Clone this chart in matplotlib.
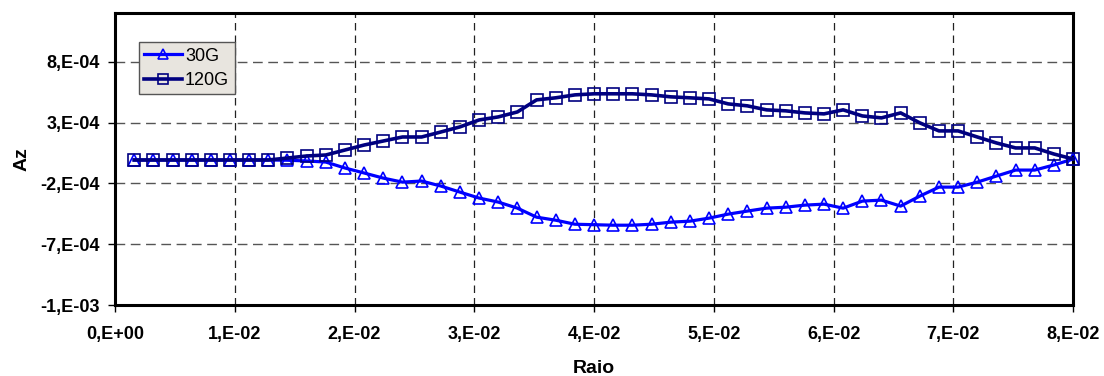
import numpy as np
from matplotlib import pyplot as plt
from matplotlib.ticker import FuncFormatter

plt.rcParams['font.family'] = ['Liberation Sans', 'DejaVu Sans']

# raio (m), 50 pontos
raio = [0.0016 * i for i in range(1, 51)]

az_30g = [-8e-6, -8e-6, -8e-6, -8e-6, -8e-6, -8e-6, -8e-6, -8e-6, -1.0e-5, -1.6e-5,
          -2.5e-5, -7.4e-5, -1.15e-4, -1.57e-4, -1.90e-4, -1.81e-4, -2.22e-4, -2.72e-4, -3.21e-4, -3.54e-4,
          -4.04e-4, -4.78e-4, -5.03e-4, -5.36e-4, -5.40e-4, -5.44e-4, -5.44e-4, -5.36e-4, -5.19e-4, -5.11e-4,
          -4.86e-4, -4.53e-4, -4.28e-4, -4.04e-4, -3.96e-4, -3.79e-4, -3.71e-4, -4.04e-4, -3.46e-4, -3.38e-4,
          -3.87e-4, -3.05e-4, -2.31e-4, -2.31e-4, -1.90e-4, -1.40e-4, -9.1e-5, -9.1e-5, -4.9e-5, 0.0]

az_120g = [-8e-6, -8e-6, -8e-6, -8e-6, -8e-6, -8e-6, -8e-6, -8e-6, 8e-6, 2.5e-5,
           3.3e-5, 7.4e-5, 1.15e-4, 1.48e-4, 1.81e-4, 1.81e-4, 2.22e-4, 2.64e-4, 3.21e-4, 3.46e-4,
           3.87e-4, 4.86e-4, 5.03e-4, 5.27e-4, 5.36e-4, 5.36e-4, 5.36e-4, 5.27e-4, 5.11e-4, 5.03e-4,
           4.94e-4, 4.53e-4, 4.37e-4, 4.04e-4, 3.96e-4, 3.79e-4, 3.71e-4, 4.04e-4, 3.54e-4, 3.38e-4,
           3.79e-4, 2.97e-4, 2.31e-4, 2.31e-4, 1.81e-4, 1.32e-4, 9.1e-5, 9.1e-5, 4.1e-5, 0.0]

x_ticks = np.arange(0, 0.0801, 0.01)
y_ticks = np.arange(-1.2e-3, 1.0e-3, 5e-4)


def excel_sci(v, pos=None):
    # formato tipo Excel "0,E+00"
    if abs(v) < 1e-12:
        return '0,E+00'
    e = int(np.floor(np.log10(abs(v)) + 1e-9))
    m = int(round(v / 10 ** e))
    return f'{m},E{e:+03d}'


fig = plt.figure(figsize=(11.04, 3.76), dpi=100)
ax = fig.add_axes([0.1042, 0.1888, 0.8678, 0.7766])

ax.plot(raio, az_30g, color='#0000FF', lw=2.3, marker='^', markersize=8,
        markerfacecolor='none', markeredgecolor='#0000FF', markeredgewidth=1.2,
        label='30G', clip_on=False, zorder=3)
ax.plot(raio, az_120g, color='#000080', lw=2.6, marker='s', markersize=9,
        markerfacecolor='none', markeredgecolor='#000080', markeredgewidth=1.2,
        label='120G', clip_on=False, zorder=3)

ax.set_xlim(0, 0.08)
ax.set_ylim(-1.2e-3, 1.2e-3)
ax.set_xticks(x_ticks)
ax.set_yticks(y_ticks)
ax.xaxis.set_major_formatter(FuncFormatter(excel_sci))
ax.yaxis.set_major_formatter(FuncFormatter(excel_sci))

ax.grid(True, color='#222222', linestyle=(0, (6, 4)), linewidth=0.9)
ax.yaxis.grid(True, color='#555555', linestyle=(0, (7, 4)), linewidth=1.0)
ax.set_axisbelow(True)

for s in ax.spines.values():
    s.set_linewidth(2.2)
    s.set_color('black')

ax.tick_params(direction='out', length=5, width=1, labelsize=13, pad=6)
for lbl in ax.get_xticklabels() + ax.get_yticklabels():
    lbl.set_fontweight('bold')
ax.tick_params(axis='x', pad=10)

ax.set_xlabel('Raio', fontsize=14, fontweight='bold', labelpad=12)
ax.set_ylabel('Az', fontsize=14, fontweight='bold', labelpad=7)

leg = ax.legend(loc='upper left', bbox_to_anchor=(0.025, 0.90), borderaxespad=0,
                fontsize=13, fancybox=False, framealpha=1, handlelength=2.1,
                handletextpad=0.15, labelspacing=0.4, borderpad=0.3,
                markerscale=0.85)
leg.get_frame().set_facecolor('#E8E5DF')
leg.get_frame().set_edgecolor('#555555')
leg.get_frame().set_linewidth(1.0)

plt.savefig('out.png', dpi=100)
